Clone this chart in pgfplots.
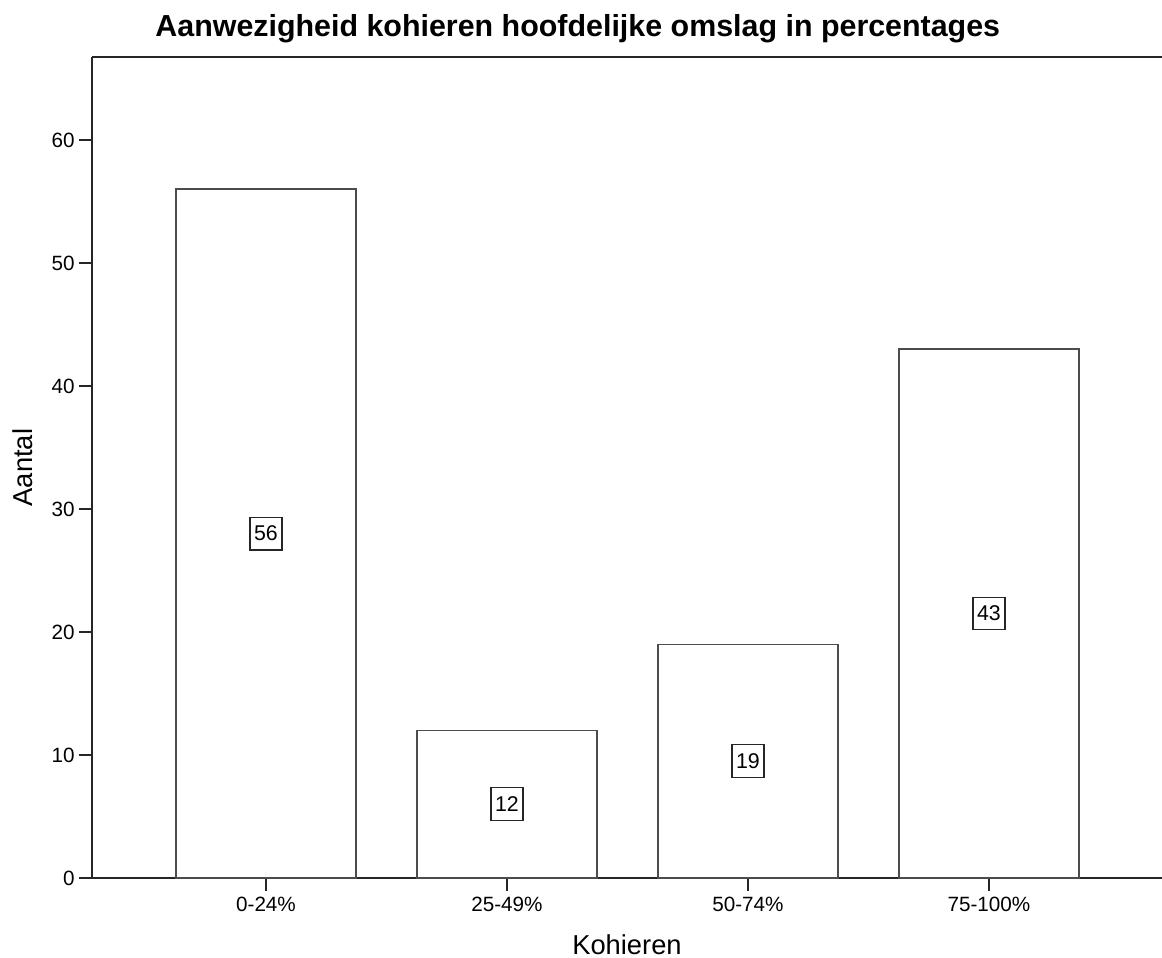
\documentclass[border=0pt]{standalone}
\usepackage{pgfplots}
\pgfplotsset{compat=1.18}
\usepackage{fontspec}
\setmainfont{Liberation Sans}

\begin{document}
\begin{tikzpicture}[x=1pt,y=1pt]
\begin{axis}[
    name=ax,
    scale only axis,
    width=802.5pt, height=615.75pt,
    xmin=-0.722, xmax=3.718,
    ymin=0, ymax=66.75,
    axis x line*=bottom, axis y line*=left,
    axis line style={line width=1pt, black!85},
    ybar, bar width=135pt,
    xtick={0,1,2,3},
    xticklabels={0-24\%,25-49\%,50-74\%,75-100\%},
    ytick={0,10,...,60},
    tick align=outside,
    major tick length=9.5pt,
    tick style={line width=1pt, black!85},
    /pgf/number format/assume math mode=true,
    ticklabel style={font=\fontsize{15.5pt}{18pt}\selectfont},
    xticklabel style={yshift=-1.5pt},
    nodes near coords,
    visualization depends on=y \as \rawy,
    every node near coord/.append style={
        anchor=center,
        shift={(axis direction cs:0,-\rawy/2)},
        font=\fontsize{16pt}{18pt}\selectfont,
        draw=black!85, line width=0.9pt, fill=white,
        minimum width=24pt, minimum height=24.5pt, inner sep=0pt},
    clip=false,
]
\addplot[draw=black!70, line width=1.1pt, fill=white]
    coordinates {(0,56) (1,12) (2,19) (3,43)};
\draw[line width=1pt, black!85] (rel axis cs:0,1) -- (rel axis cs:1,1);
\node[anchor=base, font=\fontsize{22.8pt}{26pt}\selectfont\bfseries]
    at ([yshift=15pt]rel axis cs:0.454,1) {Aanwezigheid kohieren hoofdelijke omslag in percentages};
\node[anchor=base, font=\fontsize{20.5pt}{24pt}\selectfont]
    at ([yshift=-57pt]rel axis cs:0.5,0) {Kohieren};
\node[anchor=base, rotate=90, font=\fontsize{20.5pt}{24pt}\selectfont]
    at ([xshift=-44.25pt]rel axis cs:0,0.5) {Aantal};
\end{axis}
\pgfresetboundingbox
\path[use as bounding box] ([xshift=-69pt,yshift=-60pt]ax.south west) rectangle ([yshift=42.75pt]ax.north east);
\end{tikzpicture}
\end{document}
